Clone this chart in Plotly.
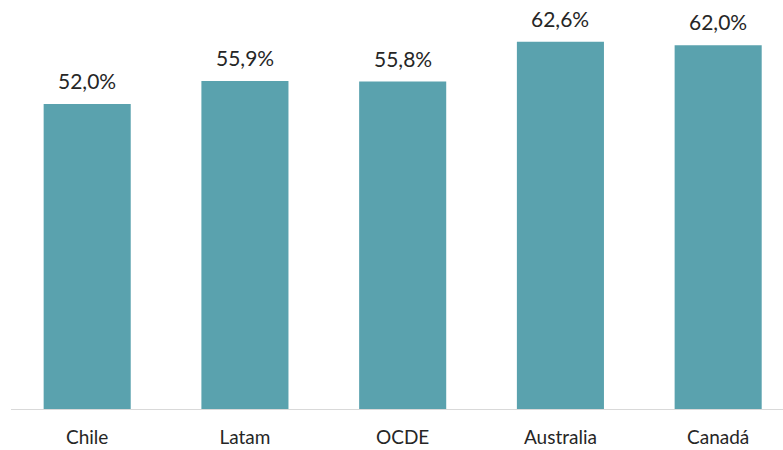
import plotly.graph_objects as go

categories = ["Chile", "Latam", "OCDE", "Australia", "Canadá"]
values = [52.0, 55.9, 55.8, 62.6, 62.0]
labels = [f"{v:.1f}%".replace(".", ",") for v in values]

FONT = "Lato, Open Sans, sans-serif"

fig = go.Figure(go.Bar(
    x=categories, y=values,
    marker=dict(color="#5AA2AE", line=dict(width=0)),
    hoverinfo="skip",
))
for c, v, t in zip(categories, values, labels):
    fig.add_annotation(x=c, y=v, text=t, showarrow=False, yanchor="bottom",
                       yshift=9, font=dict(family=FONT, size=21, color="#262626"))
fig.update_layout(
    width=783, height=450,
    margin=dict(l=11, r=0, t=8, b=41),
    paper_bgcolor="white", plot_bgcolor="white",
    bargap=0.448, showlegend=False,
    xaxis=dict(range=[-0.483, 4.411], showline=True, linecolor="#D9D9D9", linewidth=1,
               ticks="", ticklabelstandoff=11,
               tickfont=dict(family=FONT, size=19, color="#262626")),
    yaxis=dict(range=[0, 68.34], visible=False, showgrid=False),
)
fig.write_html("out.html", config={"displayModeBar": False},
               post_script="document.body.style.margin='0';document.body.style.overflow='hidden';")
